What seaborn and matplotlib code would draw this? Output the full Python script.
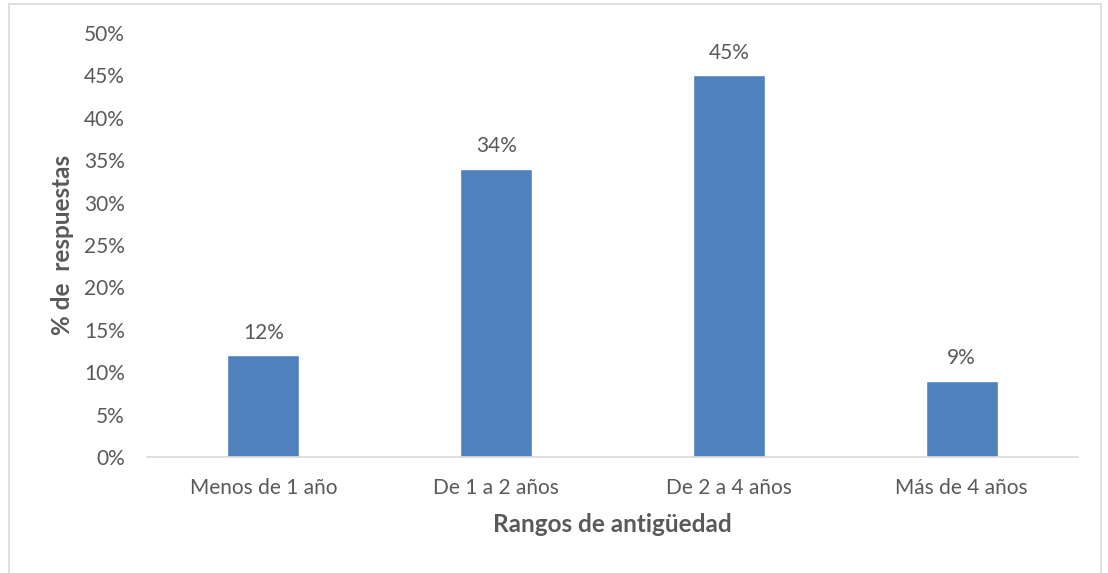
import pandas as pd
import numpy as np
import matplotlib.pyplot as plt
import seaborn as sns
from matplotlib.patches import Rectangle
from matplotlib.ticker import PercentFormatter

# Datos del gráfico
rangos = ['Menos de 1 año', 'De 1 a 2 años', 'De 2 a 4 años', 'Más de 4 años']
porcentajes = [0.12, 0.34, 0.45, 0.09]
etiquetas = ['12%', '34%', '45%', '9%']

df = pd.DataFrame({'rango': rangos, 'porcentaje': porcentajes})

sns.set_style('white')
plt.rcParams['font.family'] = ['Lato', 'DejaVu Sans']

gris = '#595959'
azul = '#4F81BD'

fig = plt.figure(figsize=(11.08, 5.73), dpi=100)
ax = fig.add_axes([147 / 1108, 1 - 457 / 573, (1078 - 147) / 1108, (457 - 33) / 573])

sns.barplot(data=df, x='rango', y='porcentaje', color=azul, width=0.31,
            saturation=1, ax=ax)

ax.set_ylim(0, 0.5)
ax.set_yticks(np.arange(0, 0.51, 0.05))
ax.yaxis.set_major_formatter(PercentFormatter(1.0, decimals=0))
ax.tick_params(axis='both', length=0, labelsize=15, labelcolor=gris)
ax.tick_params(axis='y', pad=16)
ax.tick_params(axis='x', pad=15)

for container in ax.containers:
    ax.bar_label(container, labels=etiquetas, padding=9, fontsize=15, color=gris)

ax.set_xlabel('Rangos de antigüedad', fontsize=17.5, fontweight='bold', color=gris, labelpad=11)
ax.set_ylabel('% de  respuestas', fontsize=17.5, fontweight='bold', color=gris, labelpad=7)

sns.despine(ax=ax, left=True)
ax.spines['bottom'].set_color('#D9D9D9')
ax.spines['bottom'].set_linewidth(1.2)

# borde del área del gráfico
fig.patches.append(Rectangle((9 / 1108, -0.05), (1101 - 9) / 1108, 1 - 4 / 573 + 0.05,
                             transform=fig.transFigure, fill=False,
                             edgecolor='#D9D9D9', linewidth=1.2))

fig.savefig('out.png', dpi=100)
